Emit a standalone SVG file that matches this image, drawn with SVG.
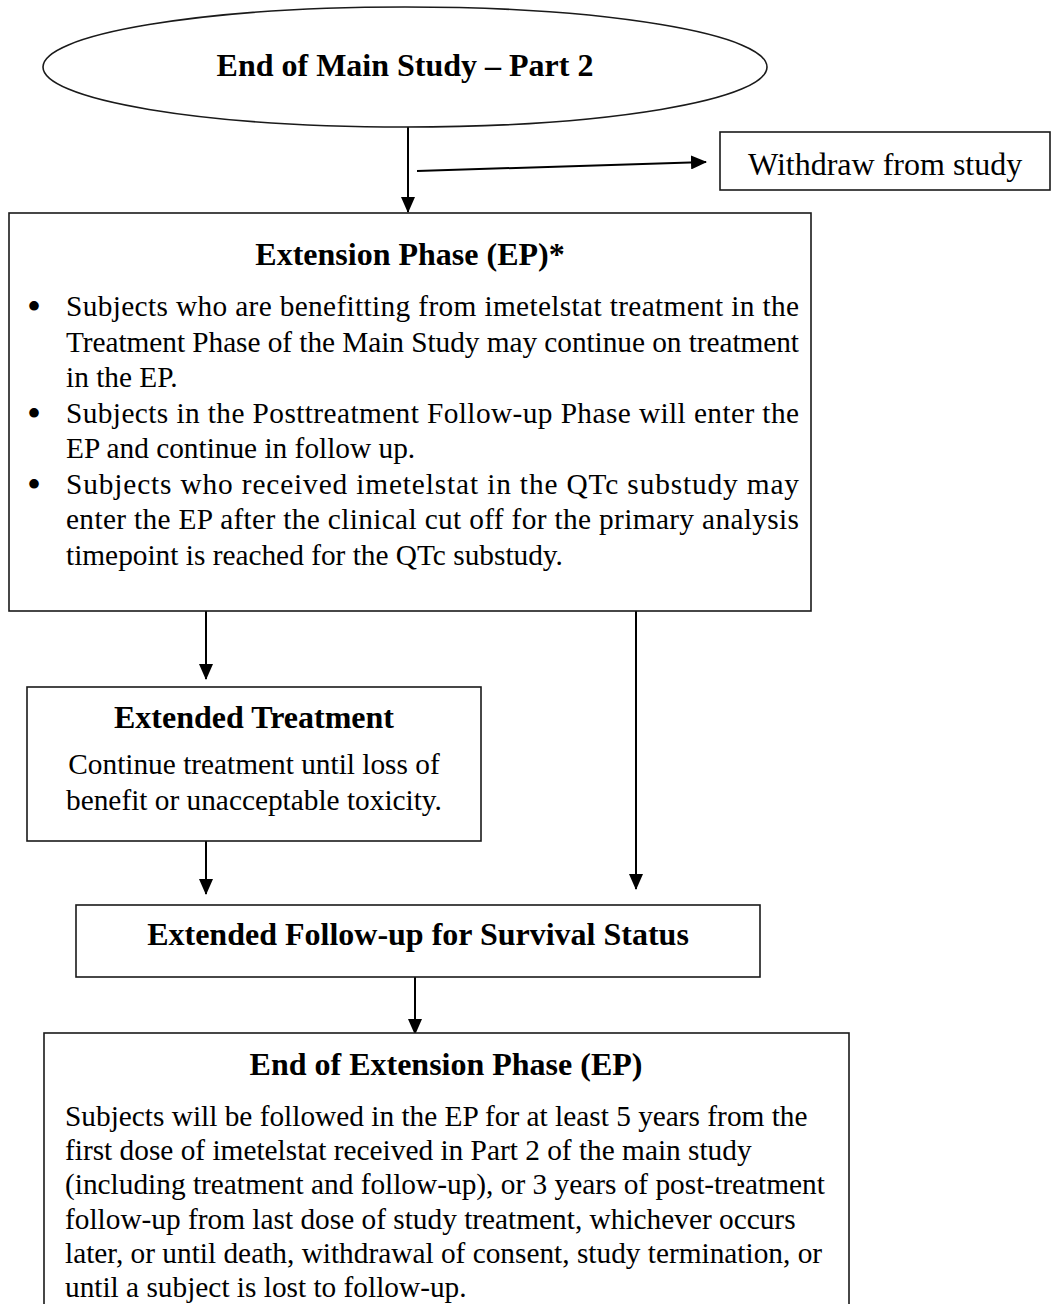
<svg xmlns="http://www.w3.org/2000/svg" width="1051" height="1304" viewBox="0 0 1051 1304">
<style>
.box{fill:#fff;stroke:#1a1a1a;stroke-width:1.6}
.ttl{font-family:"Liberation Serif","Times New Roman",serif;font-weight:bold;font-size:32px;fill:#000;text-anchor:middle}
.body{font-family:"Liberation Serif","Times New Roman",serif;font-size:29.33px;fill:#000}
.bul{font-family:"Liberation Serif","Times New Roman",serif;font-size:40px;fill:#000}
.ctr{text-anchor:middle}
.conn{stroke:#000;stroke-width:2;fill:none}
</style>
<defs>
<marker id="arr" markerWidth="16" markerHeight="14" refX="15" refY="7" orient="auto" markerUnits="userSpaceOnUse">
<path d="M0,0 L16,7 L0,14 Z" fill="#000"/>
</marker>
</defs>
<g id="connectors">
<line class="conn" x1="408" y1="127" x2="408" y2="212" marker-end="url(#arr)"/>
<line class="conn" x1="417" y1="171" x2="706" y2="162" marker-end="url(#arr)"/>
<line class="conn" x1="206" y1="611" x2="206" y2="679" marker-end="url(#arr)"/>
<line class="conn" x1="636" y1="611" x2="636" y2="889" marker-end="url(#arr)"/>
<line class="conn" x1="206" y1="841" x2="206" y2="894" marker-end="url(#arr)"/>
<line class="conn" x1="415" y1="977" x2="415" y2="1034" marker-end="url(#arr)"/>
</g>
<g id="end-main-study">
<ellipse class="box" cx="405" cy="67" rx="362" ry="60"/>
<text class="ttl" x="405" y="76">End of Main Study – Part 2</text>
</g>
<g id="withdraw">
<rect class="box" x="720" y="132" width="330" height="58"/>
<text class="body" x="748" y="175" style="font-size:32px">Withdraw from study</text>
</g>
<g id="extension-phase">
<rect class="box" x="9" y="213" width="802" height="398"/>
<text class="ttl" x="410" y="265">Extension Phase (EP)*</text>
<text class="bul" x="27" y="320">•</text>
<text class="bul" x="27" y="427">•</text>
<text class="bul" x="27" y="498">•</text>
<text class="body" x="66" y="316" textLength="733" lengthAdjust="spacing">Subjects who are benefitting from imetelstat treatment in the</text>
<text class="body" x="66" y="351.5" textLength="733" lengthAdjust="spacing">Treatment Phase of the Main Study may continue on treatment</text>
<text class="body" x="66" y="387">in the EP.</text>
<text class="body" x="66" y="422.5" textLength="733" lengthAdjust="spacing">Subjects in the Posttreatment Follow-up Phase will enter the</text>
<text class="body" x="66" y="458">EP and continue in follow up.</text>
<text class="body" x="66" y="493.5" textLength="733" lengthAdjust="spacing">Subjects who received imetelstat in the QTc substudy may</text>
<text class="body" x="66" y="529" textLength="733" lengthAdjust="spacing">enter the EP after the clinical cut off for the primary analysis</text>
<text class="body" x="66" y="564.5">timepoint is reached for the QTc substudy.</text>
</g>
<g id="extended-treatment">
<rect class="box" x="27" y="687" width="454" height="154"/>
<text class="ttl" x="254" y="728">Extended Treatment</text>
<text class="body ctr" x="254" y="774">Continue treatment until loss of</text>
<text class="body ctr" x="254" y="810">benefit or unacceptable toxicity.</text>
</g>
<g id="extended-follow-up">
<rect class="box" x="76" y="905" width="684" height="72"/>
<text class="ttl" x="418" y="945">Extended Follow-up for Survival Status</text>
</g>
<g id="end-extension-phase">
<rect class="box" x="44" y="1033" width="805" height="290"/>
<text class="ttl" x="446" y="1075">End of Extension Phase (EP)</text>
<text class="body" x="65" y="1126">Subjects will be followed in the EP for at least 5 years from the</text>
<text class="body" x="65" y="1160.2">first dose of imetelstat received in Part 2 of the main study</text>
<text class="body" x="65" y="1194.4">(including treatment and follow-up), or 3 years of post-treatment</text>
<text class="body" x="65" y="1228.6">follow-up from last dose of study treatment, whichever occurs</text>
<text class="body" x="65" y="1262.8">later, or until death, withdrawal of consent, study termination, or</text>
<text class="body" x="65" y="1297">until a subject is lost to follow-up.</text>
</g>
</svg>
